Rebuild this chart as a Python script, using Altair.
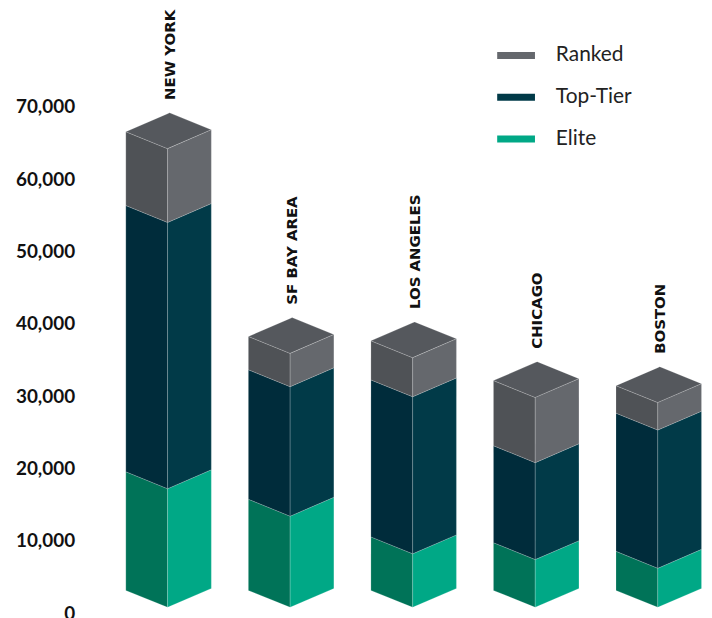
import altair as alt
import pandas as pd

# ---------------- data ----------------
cities = ["NEW YORK", "SF BAY AREA", "LOS ANGELES", "CHICAGO", "BOSTON"]
elite = [16400, 12600, 7400, 6600, 5400]
top_tier = [36800, 17900, 21700, 13400, 19100]
ranked = [10200, 4600, 5400, 9000, 3800]
stack_series = ["Elite", "Top-Tier", "Ranked"]          # bottom to top
y_ticks = [0, 10000, 20000, 30000, 40000, 50000, 60000, 70000]

legend_order = ["Ranked", "Top-Tier", "Elite"]
legend_colors = ["#65686d", "#013a48", "#00a886"]
left_colors = {"Elite": "#007358", "Top-Tier": "#002c3b", "Ranked": "#4f5256"}
right_colors = {"Elite": "#00a886", "Top-Tier": "#013a48", "Ranked": "#65686d"}
top_color = "#55585d"

# ---------------- layout (style) ----------------
PAD_L, PAD_T = 80, 0
W, H = 620, 601
Y_MAX = 82600
X_MIN, X_MAX = -0.6531, 4.3773
px_x = W / (X_MAX - X_MIN)
px_y = H / Y_MAX
HALF_L = 42 / px_x
HALF_R = 44 / px_x
RISE_L = 17 / px_y
RISE_R = 19 / px_y

values = {"Elite": elite, "Top-Tier": top_tier, "Ranked": ranked}

side_rows = []   # left + top faces (direct colours)
right_rows = []  # right faces (legend colours)
label_rows = []
pid = 0
for i, city in enumerate(cities):
    xc = float(i)
    xl, xr = xc - HALF_L, xc + HALF_R
    xb = xl + xr - xc
    base = 0.0
    for s in stack_series:
        v = values[s][i]
        lo, hi = base, base + v
        pid += 1
        side_rows += [
            dict(pid=f"p{pid}", px=xl, py=lo + RISE_L, py2=hi + RISE_L, fc=left_colors[s]),
            dict(pid=f"p{pid}", px=xc, py=lo, py2=hi, fc=left_colors[s]),
        ]
        pid += 1
        right_rows += [
            dict(pid=f"p{pid}", px=xc, py=lo, py2=hi, series=s),
            dict(pid=f"p{pid}", px=xr, py=lo + RISE_R, py2=hi + RISE_R, series=s),
        ]
        base = hi
    T = base
    pid += 1
    low_b = T + RISE_R * (xb - xc) / (xr - xc)
    up_c = T + RISE_L + RISE_R * (xc - xl) / (xb - xl)
    side_rows += [
        dict(pid=f"p{pid}", px=xl, py=T + RISE_L, py2=T + RISE_L, fc=top_color),
        dict(pid=f"p{pid}", px=xc, py=T, py2=up_c, fc=top_color),
        dict(pid=f"p{pid}", px=xb, py=low_b, py2=T + RISE_L + RISE_R, fc=top_color),
        dict(pid=f"p{pid}", px=xr, py=T + RISE_R, py2=T + RISE_R, fc=top_color),
    ]
    label_rows.append(dict(city=city, px=xb, py=T + RISE_L + RISE_R))

side_df = pd.DataFrame(side_rows)
right_df = pd.DataFrame(right_rows)
label_df = pd.DataFrame(label_rows)

xscale = alt.Scale(domain=[X_MIN, X_MAX], nice=False, zero=False)
yscale = alt.Scale(domain=[0, Y_MAX], nice=False, zero=False)

edge = dict(line=False, stroke="#ffffff", strokeWidth=0.6, strokeOpacity=0.3)

sides = alt.Chart(side_df).mark_area(**edge).encode(
    x=alt.X("px:Q", scale=xscale, axis=None),
    y=alt.Y("py:Q", scale=yscale, stack=None, axis=alt.Axis(
        values=y_ticks, format=",.0f", title=None, domain=False, ticks=False,
        tickSize=0, grid=False, labelPadding=13, labelOffset=6,
        labelFont="Lato", labelFontSize=19, labelFontWeight="bold",
        labelColor="#111111")),
    y2="py2:Q",
    fill=alt.Fill("fc:N", scale=None),
    detail="pid:N",
)

rights = alt.Chart(right_df).mark_area(**edge).encode(
    x=alt.X("px:Q", scale=xscale, axis=None),
    y=alt.Y("py:Q", scale=yscale, stack=None),
    y2="py2:Q",
    fill=alt.Fill("series:N",
                  scale=alt.Scale(domain=legend_order, range=legend_colors),
                  legend=alt.Legend(
                      orient="none", legendX=412, legendY=27, title=None,
                      symbolType="M-1,-0.18H1V0.18H-1Z", symbolSize=1444,
                      symbolStrokeWidth=0, symbolOpacity=1,
                      labelFont="Lato", labelFontSize=21, labelColor="#222222",
                      labelOffset=21, rowPadding=13, padding=0)),
    detail="pid:N",
)

labels = alt.Chart(label_df).mark_text(
    angle=270, align="left", baseline="middle", dx=13,
    font="DejaVu Sans", fontSize=15, fontWeight="bold", color="#111111",
).encode(
    x=alt.X("px:Q", scale=xscale, axis=None),
    y=alt.Y("py:Q", scale=yscale),
    text="city:N",
)

chart = alt.layer(sides, rights, labels).resolve_scale(
    fill="independent"
).properties(
    width=W, height=H,
    autosize=alt.AutoSizeParams(type="none"),
    padding={"left": PAD_L, "top": PAD_T, "right": 0, "bottom": 12},
).configure_view(stroke=None)

chart.save("out.html", embed_options={"renderer": "svg", "actions": False})
